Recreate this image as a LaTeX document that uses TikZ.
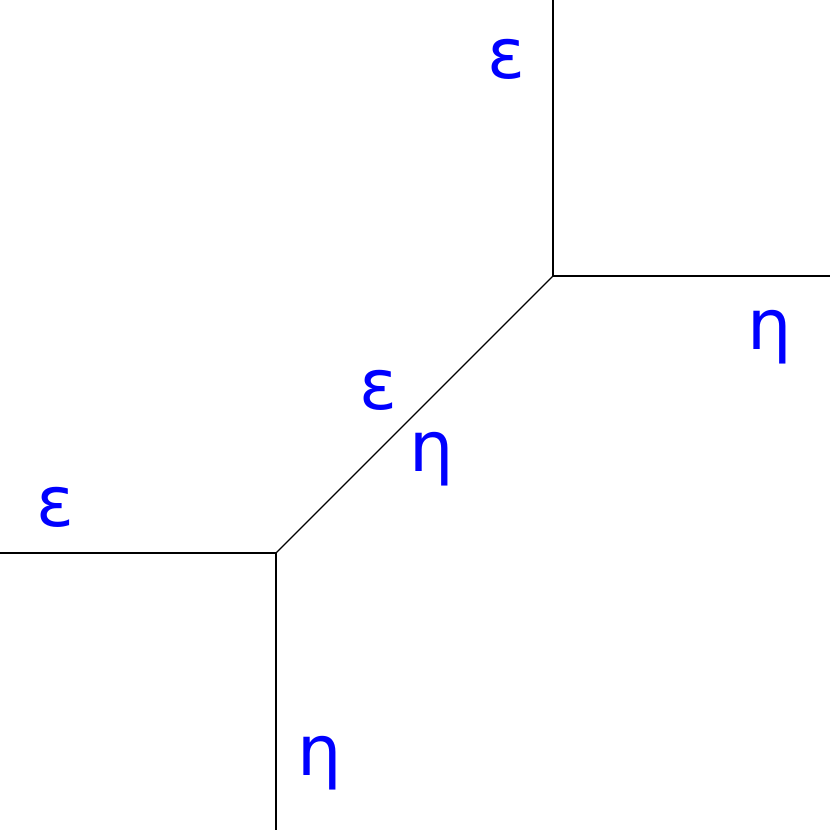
\documentclass[tikz,border=0pt]{standalone}
\usepackage{fontspec}
\setmainfont{DejaVu Sans}
\begin{document}
\begin{tikzpicture}[x=1pt,y=-1pt,
  edge/.style={draw=black,line width=1.2pt},
  lab/.style={text=blue,font=\fontsize{70}{70}\selectfont,anchor=base,inner sep=0pt}]
\useasboundingbox (0,0) rectangle (830,830);
\coordinate (a) at (553,276);
\coordinate (b) at (276,553);
\coordinate (t) at (553,0);
\coordinate (r) at (830,276);
\coordinate (l) at (0,553);
\coordinate (d) at (276,830);
\draw[edge] (t) -- (a) -- (r);
\draw[edge] (a) -- (b);
\draw[edge] (l) -- (b) -- (d);
\node[lab] (e1) at (506,78) {ε};
\node[lab] (h1) at (770,349) {η};
\node[lab] (e2) at (378,409) {ε};
\node[lab] (h2) at (432,471) {η};
\node[lab] (e3) at (55,526) {ε};
\node[lab] (h3) at (320,775) {η};
\end{tikzpicture}
\end{document}
